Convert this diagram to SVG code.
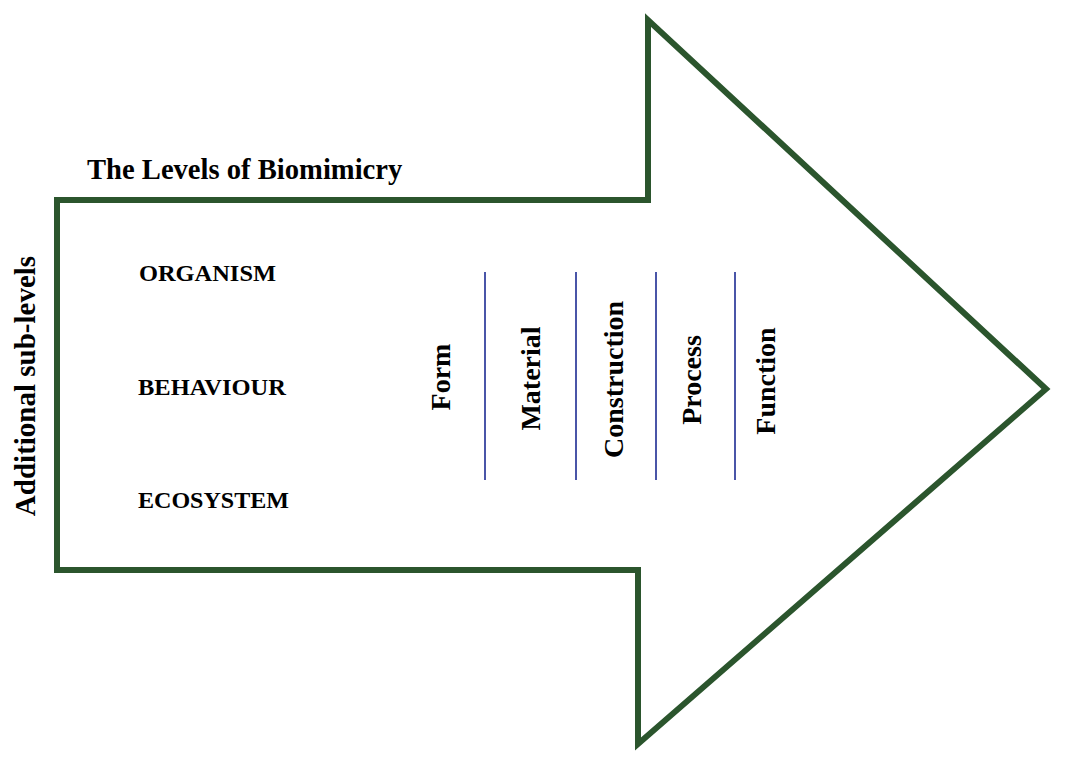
<svg xmlns="http://www.w3.org/2000/svg" width="1081" height="770" viewBox="0 0 1081 770">
<style>
.t{font-family:"Liberation Serif","Times New Roman",serif;font-weight:bold;fill:#000}
.lvl{font-size:23px}
.vert{font-size:28px;text-anchor:middle}
.div{stroke:#4a55a8;stroke-width:2}
</style>
<rect width="1081" height="770" fill="#fff"/>
<g id="arrow">
<polygon points="57,200 648,200 648,20 1046,389 638,744 638,570 57,570" fill="none" stroke="#2b552d" stroke-width="6" stroke-linejoin="miter"/>
</g>
<g id="title"><text class="t" x="87" y="179" font-size="28.6">The Levels of Biomimicry</text></g>
<g id="sublevels"><text class="t vert" style="font-size:29px" transform="translate(35,386) rotate(-90)">Additional sub-levels</text></g>
<g id="organism"><text class="t lvl" x="139" y="281" textLength="137" lengthAdjust="spacingAndGlyphs">ORGANISM</text></g>
<g id="behaviour"><text class="t lvl" x="138" y="395" textLength="148" lengthAdjust="spacingAndGlyphs">BEHAVIOUR</text></g>
<g id="ecosystem"><text class="t lvl" x="138" y="508" textLength="151" lengthAdjust="spacingAndGlyphs">ECOSYSTEM</text></g>
<g id="form"><text class="t vert" transform="translate(450,377) rotate(-90)">Form</text></g>
<g id="material"><text class="t vert" transform="translate(540,378.5) rotate(-90)">Material</text></g>
<g id="construction"><text class="t vert" transform="translate(623,379.5) rotate(-90)">Construction</text></g>
<g id="process"><text class="t vert" transform="translate(701,380) rotate(-90)">Process</text></g>
<g id="function"><text class="t vert" transform="translate(775,381) rotate(-90)">Function</text></g>
<g id="connectors">
<line class="div" x1="485" y1="272" x2="485" y2="480"/>
<line class="div" x1="576" y1="272" x2="576" y2="480"/>
<line class="div" x1="656" y1="272" x2="656" y2="480"/>
<line class="div" x1="735" y1="272" x2="735" y2="480"/>
</g>
</svg>
